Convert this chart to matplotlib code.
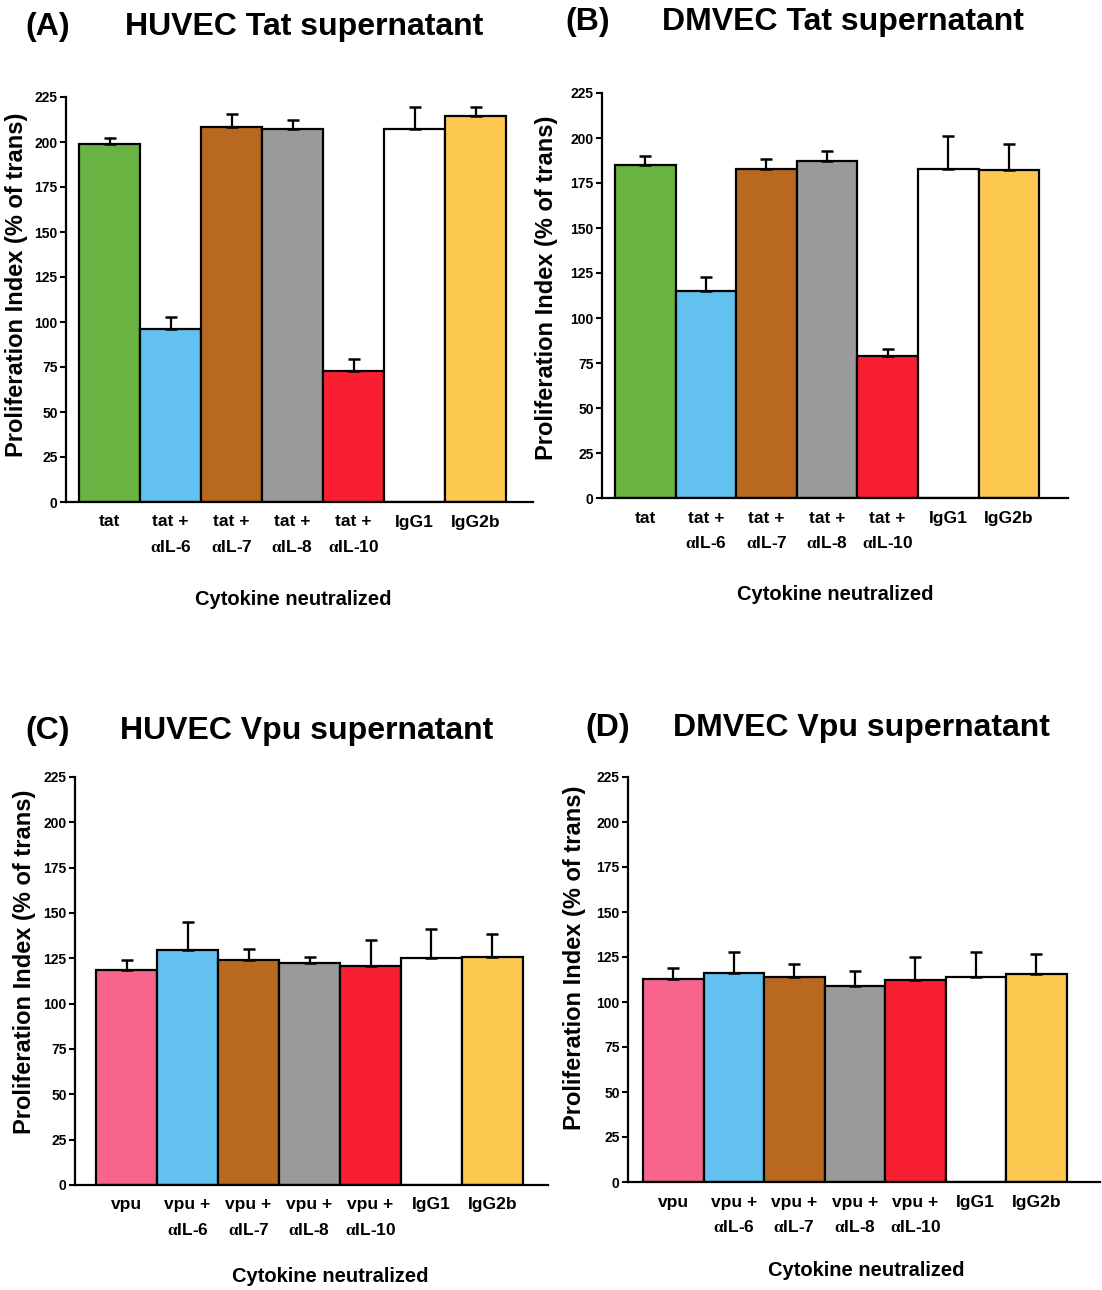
import matplotlib
matplotlib.use("Agg")
import matplotlib.pyplot as plt

plt.rcParams['font.family'] = ['Liberation Sans', 'DejaVu Sans']
plt.rcParams['font.weight'] = 'bold'
plt.rcParams['mathtext.fontset'] = 'custom'
plt.rcParams['mathtext.rm'] = 'Liberation Serif'
plt.rcParams['mathtext.it'] = 'Liberation Serif'

# ---------------- data ----------------
tat_labels = ["tat", "tat +\n$\\alpha$IL-6", "tat +\n$\\alpha$IL-7", "tat +\n$\\alpha$IL-8",
              "tat +\n$\\alpha$IL-10", "IgG1", "IgG2b"]
vpu_labels = ["vpu", "vpu +\n$\\alpha$IL-6", "vpu +\n$\\alpha$IL-7", "vpu +\n$\\alpha$IL-8",
              "vpu +\n$\\alpha$IL-10", "IgG1", "IgG2b"]

huvec_tat = [199, 96, 208.5, 207, 73, 207, 214.5]
huvec_tat_err = [3, 7, 7, 5, 6.5, 12.5, 5]

dmvec_tat = [185, 115, 183, 187, 79, 183, 182.5]
dmvec_tat_err = [5, 8, 5.5, 6, 4, 18, 14]

huvec_vpu = [118.5, 129.5, 124, 122.5, 120.5, 125, 125.5]
huvec_vpu_err = [5.5, 15.5, 6, 3, 14.5, 16, 13]

dmvec_vpu = [113, 116, 114, 109, 112.5, 114, 115.5]
dmvec_vpu_err = [6, 12, 7, 8, 12.5, 14, 11]

tat_colors = ["#69b342", "#63c1f0", "#b9691f", "#9a9a9a", "#f81f33", "#ffffff", "#fcc850"]
vpu_colors = ["#f7648c", "#63c1f0", "#b9691f", "#9a9a9a", "#f81f33", "#ffffff", "#fcc850"]

yticks = [0, 25, 50, 75, 100, 125, 150, 175, 200, 225]

# ---------------- layout ----------------
W, H = 1102, 1290
fig = plt.figure(figsize=(W / 100, H / 100), dpi=100)


def make_panel(x0, x1, y0, ytop, bar_left, bar_w, values, errs, colors, labels):
    ax = fig.add_axes([x0 / W, 1 - y0 / H, (x1 - x0) / W, (y0 - ytop) / H])
    n = len(values)
    xlo = -0.5 - (bar_left - x0) / bar_w
    xhi = xlo + (x1 - x0) / bar_w
    xs = list(range(n))
    ax.bar(xs, values, width=1.0, color=colors, edgecolor="black", linewidth=1.6, zorder=2)
    ax.errorbar(xs, values, yerr=[[0] * n, errs], fmt="none", ecolor="black",
                elinewidth=1.6, capsize=4, capthick=1.8, zorder=3)
    ax.set_xlim(xlo, xhi)
    ax.set_ylim(0, 225)
    ax.set_yticks(yticks)
    ax.set_yticklabels([str(t) for t in yticks], fontsize=10, fontweight="bold")
    ax.set_xticks(xs)
    ax.set_xticklabels(labels, fontsize=12.5, fontweight="bold", linespacing=1.75)
    ax.tick_params(axis="x", length=0, pad=9)
    ax.tick_params(axis="y", direction="out", length=4, width=1.5, pad=2)
    for s in ("top", "right"):
        ax.spines[s].set_visible(False)
    for s in ("left", "bottom"):
        ax.spines[s].set_linewidth(1.6)
    ax.patch.set_alpha(0)
    return ax


make_panel(66, 533, 502, 97, 79, 61, huvec_tat, huvec_tat_err, tat_colors, tat_labels)
make_panel(602, 1068, 498, 93, 615, 60.6, dmvec_tat, dmvec_tat_err, tat_colors, tat_labels)
make_panel(75, 548, 1185, 777, 96, 61, huvec_vpu, huvec_vpu_err, vpu_colors, vpu_labels)
make_panel(628, 1100, 1182, 777, 643, 60.5, dmvec_vpu, dmvec_vpu_err, vpu_colors, vpu_labels)


def ftext(x, y, s, **kw):
    fig.text(x / W, 1 - y / H, s, **kw)


title_kw = dict(fontsize=23, fontweight="bold", va="center", ha="left")
ftext(25, 27, "(A)", **title_kw)
ftext(125, 27, "HUVEC Tat supernatant", **title_kw)
ftext(565, 22, "(B)", **title_kw)
ftext(662, 22, "DMVEC Tat supernatant", **title_kw)
ftext(25, 731, "(C)", **title_kw)
ftext(120, 731, "HUVEC Vpu supernatant", **title_kw)
ftext(585, 728, "(D)", **title_kw)
ftext(673, 728, "DMVEC Vpu supernatant", **title_kw)

ylab = "Proliferation Index (% of trans)"
ylab_kw = dict(fontsize=17, fontweight="bold", rotation=90, va="center", ha="center")
ftext(17, 285, ylab, **ylab_kw)
ftext(546, 288, ylab, **ylab_kw)
ftext(25, 962, ylab, **ylab_kw)
ftext(574, 958, ylab, **ylab_kw)

xlab_kw = dict(fontsize=14.5, fontweight="bold", va="center", ha="center")
ftext(293, 599, "Cytokine neutralized", **xlab_kw)
ftext(835, 594, "Cytokine neutralized", **xlab_kw)
ftext(330, 1276, "Cytokine neutralized", **xlab_kw)
ftext(866, 1270, "Cytokine neutralized", **xlab_kw)

fig.savefig("out.png", dpi=100)
